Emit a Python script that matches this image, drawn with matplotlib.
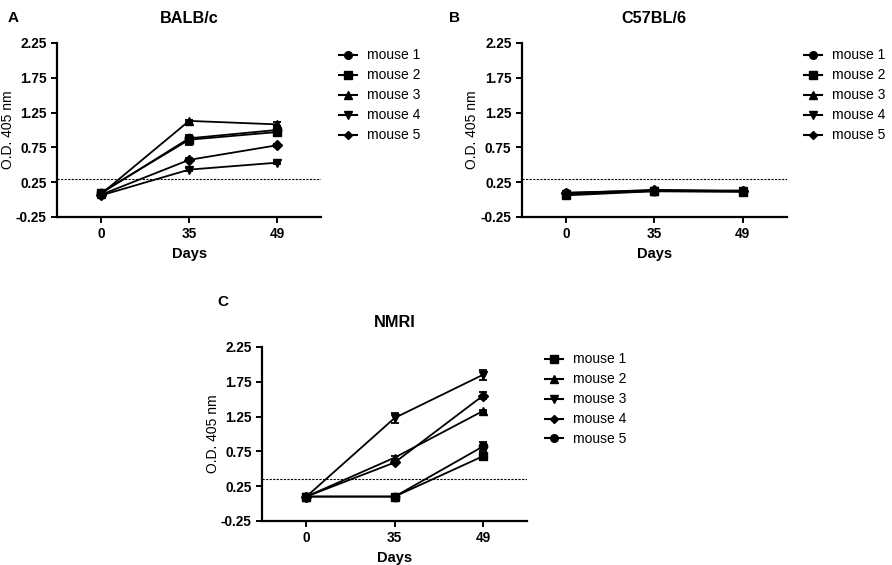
import matplotlib.pyplot as plt
from matplotlib.lines import Line2D
import numpy as np

plt.rcParams['font.family'] = ['Liberation Sans', 'DejaVu Sans']

days = ["0", "35", "49"]
cutoff_a = 0.30
cutoff_b = 0.30
cutoff_c = 0.35

labels = ["mouse 1", "mouse 2", "mouse 3", "mouse 4", "mouse 5"]

# BALB/c
balb = [
    [0.09, 0.88, 1.00],
    [0.10, 0.86, 0.97],
    [0.08, 1.13, 1.08],
    [0.06, 0.43, 0.53],
    [0.07, 0.57, 0.78],
]
balb_err = [
    [0.01, 0.03, 0.03],
    [0.02, 0.07, 0.05],
    [0.01, 0.02, 0.03],
    [0.01, 0.02, 0.02],
    [0.01, 0.02, 0.02],
]

# C57BL/6
c57 = [
    [0.10, 0.13, 0.12],
    [0.06, 0.12, 0.11],
    [0.09, 0.12, 0.12],
    [0.08, 0.13, 0.13],
    [0.09, 0.14, 0.12],
]
c57_err = [
    [0.01, 0.02, 0.01],
    [0.01, 0.02, 0.01],
    [0.01, 0.01, 0.01],
    [0.01, 0.01, 0.01],
    [0.01, 0.03, 0.02],
]

# NMRI
nmri = [
    [0.10, 0.10, 0.68],
    [0.10, 0.66, 1.33],
    [0.10, 1.23, 1.85],
    [0.10, 0.59, 1.55],
    [0.10, 0.10, 0.82],
]
nmri_err = [
    [0.01, 0.01, 0.05],
    [0.01, 0.02, 0.02],
    [0.01, 0.07, 0.07],
    [0.01, 0.02, 0.05],
    [0.01, 0.02, 0.06],
]

markers_ab = ["o", "s", "^", "v", "D"]
markers_c = ["s", "^", "v", "D", "o"]


def panel(ax, data, err, markers, cutoff, title):
    x = np.arange(len(days))
    handles = []
    for vals, e, m, lab in zip(data, err, markers, labels):
        ms = 5 if m == "D" else 6
        ax.errorbar(x, vals, yerr=e, color="black", marker=m, markersize=ms,
                     linewidth=1.3, elinewidth=1.3, capsize=3, capthick=1.3)
        handles.append(Line2D([], [], color="black", marker=m,
                              markersize=ms - 0.5, linewidth=1.5, label=lab))
    ax.axhline(cutoff, color="black", linestyle=(0, (2, 1.2)), linewidth=0.8)
    ax.set_xlim(-0.5, 2.5)
    ax.set_ylim(-0.25, 2.25)
    ax.set_xticks(x)
    ax.set_xticklabels(days)
    ax.set_yticks([-0.25, 0.25, 0.75, 1.25, 1.75, 2.25])
    ax.set_yticklabels(["-0.25", "0.25", "0.75", "1.25", "1.75", "2.25"])
    for s in ["top", "right"]:
        ax.spines[s].set_visible(False)
    for s in ["left", "bottom"]:
        ax.spines[s].set_linewidth(1.6)
    ax.tick_params(width=1.4, length=4, labelsize=9.8)
    for t in ax.get_xticklabels() + ax.get_yticklabels():
        t.set_fontweight("bold")
    ax.set_xlabel("Days", fontsize=10.5, fontweight="bold", labelpad=4)
    ax.set_ylabel("O.D. 405 nm", fontsize=10)
    ax.yaxis.set_label_coords(-0.16, 0.5)
    ax.set_title(title, fontsize=11.7, fontweight="bold", pad=14)
    ax.legend(handles=handles, loc="upper left", bbox_to_anchor=(1.045, 1.0),
              frameon=False, fontsize=10, handlelength=1.3,
              handletextpad=0.72, labelspacing=0.43, borderaxespad=0)


fig = plt.figure(figsize=(8.92, 5.65), dpi=100)

ax_a = fig.add_axes([0.064, 0.616, 0.296, 0.308])
panel(ax_a, balb, balb_err, markers_ab, cutoff_a, "BALB/c")

ax_b = fig.add_axes([0.585, 0.616, 0.297, 0.308])
panel(ax_b, c57, c57_err, markers_ab, cutoff_b, "C57BL/6")

ax_c = fig.add_axes([0.294, 0.078, 0.297, 0.308])
panel(ax_c, nmri, nmri_err, markers_c, cutoff_c, "NMRI")

fig.text(0.009, 0.968, "A", fontsize=11, fontweight="bold", va="center")
fig.text(0.503, 0.968, "B", fontsize=11, fontweight="bold", va="center")
fig.text(0.244, 0.465, "C", fontsize=11, fontweight="bold", va="center")

fig.savefig("out.png", dpi=100)
